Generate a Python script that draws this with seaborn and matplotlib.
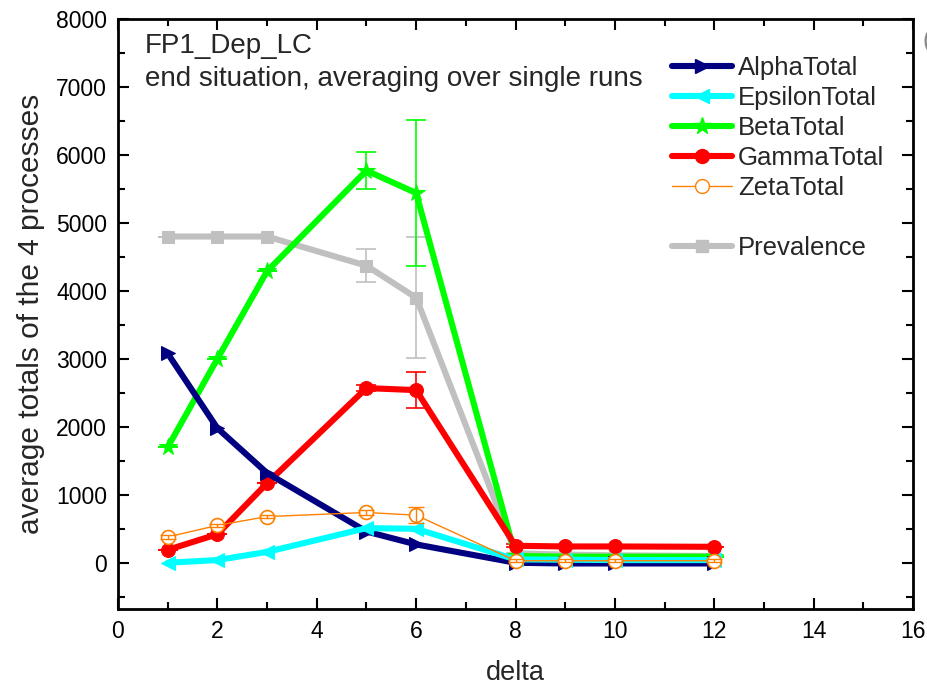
import numpy as np
import pandas as pd
import matplotlib
matplotlib.use("Agg")
import matplotlib.pyplot as plt
import seaborn as sns
from matplotlib.lines import Line2D
from matplotlib.ticker import MultipleLocator

delta = [1, 2, 3, 5, 6, 8, 9, 10, 12]
alpha_total = [3080, 1980, 1320, 460, 270, 0, -10, -10, -10]
epsilon_total = [0, 40, 160, 510, 500, 50, 45, 40, 40]
beta_total = [1700, 3000, 4290, 5770, 5440, 100, 90, 90, 90]
gamma_total = [190, 420, 1170, 2570, 2540, 250, 240, 240, 235]
zeta_total = [380, 550, 680, 740, 700, 30, 30, 30, 30]
prevalence = [4800, 4800, 4800, 4370, 3900, 140, 120, 110, 100]

beta_err = [0, 0, 0, 270, 1070, 0, 0, 0, 0]
gamma_err = [0, 0, 0, 40, 270, 20, 0, 0, 0]
zeta_err = [25, 25, 25, 30, 120, 25, 25, 25, 25]
prev_err = [0, 0, 0, 240, 890, 0, 0, 0, 0]

series_names = ["AlphaTotal", "EpsilonTotal", "BetaTotal", "GammaTotal", "ZetaTotal", "Prevalence"]

sns.set_style("ticks")
plt.rcParams["font.family"] = ["Liberation Sans", "DejaVu Sans"]

fig = plt.figure(figsize=(9.28, 6.9), dpi=100)
ax = fig.add_axes([118/928, 1-609/690, (913-118)/928, (609-19)/690])

# error bars (drawn under the lines)
ax.errorbar(delta, prevalence, yerr=prev_err, fmt="none", ecolor="#c0c0c0", elinewidth=1.2, capsize=7, capthick=1.2, zorder=1)
ax.errorbar(delta, beta_total, yerr=beta_err, fmt="none", ecolor="#00ff00", elinewidth=1.2, capsize=7, capthick=1.2, zorder=1)
ax.errorbar(delta, gamma_total, yerr=gamma_err, fmt="none", ecolor="#ff0000", elinewidth=1.2, capsize=7, capthick=1.2, zorder=1)

lw = 4.4
ms = 10
sns.lineplot(x=delta, y=prevalence, ax=ax, color="#c0c0c0", lw=lw, marker="s", ms=9, mec="#c0c0c0", zorder=2)
sns.lineplot(x=delta, y=beta_total, ax=ax, color="#00ff00", lw=lw, marker="*", ms=13, mec="#00ff00", zorder=3)
sns.lineplot(x=delta, y=gamma_total, ax=ax, color="#ff0000", lw=lw, marker="o", ms=ms, mec="#ff0000", zorder=4)
sns.lineplot(x=delta, y=alpha_total, ax=ax, color="#000080", lw=lw, marker=">", ms=ms, mec="#000080", zorder=5)
sns.lineplot(x=delta, y=epsilon_total, ax=ax, color="#00ffff", lw=lw, marker="<", ms=ms, mec="#00ffff", zorder=6)
sns.lineplot(x=delta, y=zeta_total, ax=ax, color="#ff8000", lw=1, marker="o", ms=ms, mfc="white", mec="#ff8000", mew=1.2, zorder=7)
ax.errorbar(delta, zeta_total, yerr=zeta_err, fmt="none", ecolor="#ff8000", elinewidth=1, capsize=6, capthick=1, zorder=8)

ax.set_xlim(0, 16)
ax.set_ylim(-680, 8000)
ax.xaxis.set_major_locator(MultipleLocator(2))
ax.xaxis.set_minor_locator(MultipleLocator(1))
ax.yaxis.set_major_locator(MultipleLocator(1000))
ax.yaxis.set_minor_locator(MultipleLocator(500))
ax.tick_params(which="both", direction="in", top=True, right=True, width=1.5, labelsize=16.5, colors="black")
ax.tick_params(which="major", length=8, pad=8)
ax.tick_params(which="minor", length=5)
for s in ax.spines.values():
    s.set_linewidth(2)
    s.set_color("black")

ax.set_xlabel("delta", fontsize=19.5, labelpad=12)
ax.set_ylabel("average totals of the 4 processes", fontsize=21.5, labelpad=8)

ax.text(0.034, 0.955, "FP1_Dep_LC", transform=ax.transAxes, fontsize=20, va="center", ha="left")
ax.text(0.034, 0.899, "end situation, averaging over single runs", transform=ax.transAxes, fontsize=20, va="center", ha="left")

handles = [
    Line2D([], [], color="#000080", lw=lw, marker=">", ms=ms, mec="#000080"),
    Line2D([], [], color="#00ffff", lw=lw, marker="<", ms=ms, mec="#00ffff"),
    Line2D([], [], color="#00ff00", lw=lw, marker="*", ms=13, mec="#00ff00"),
    Line2D([], [], color="#ff0000", lw=lw, marker="o", ms=ms, mec="#ff0000"),
    Line2D([], [], color="#ff8000", lw=1, marker="o", ms=ms, mfc="white", mec="#ff8000"),
    Line2D([], [], color="none"),
    Line2D([], [], color="#c0c0c0", lw=lw, marker="s", ms=9, mec="#c0c0c0"),
]
labels = series_names[:5] + [""] + series_names[5:]
ax.legend(handles, labels, loc="upper left", bbox_to_anchor=(0.697, 0.937), frameon=False,
          fontsize=18.5, handlelength=2.35, labelspacing=0.23, handletextpad=0.2, borderpad=0,
          borderaxespad=0)

fig.text(0.9945, 0.94, "(", fontsize=18, color="#888888", va="center")

fig.savefig("out.png", dpi=100)
